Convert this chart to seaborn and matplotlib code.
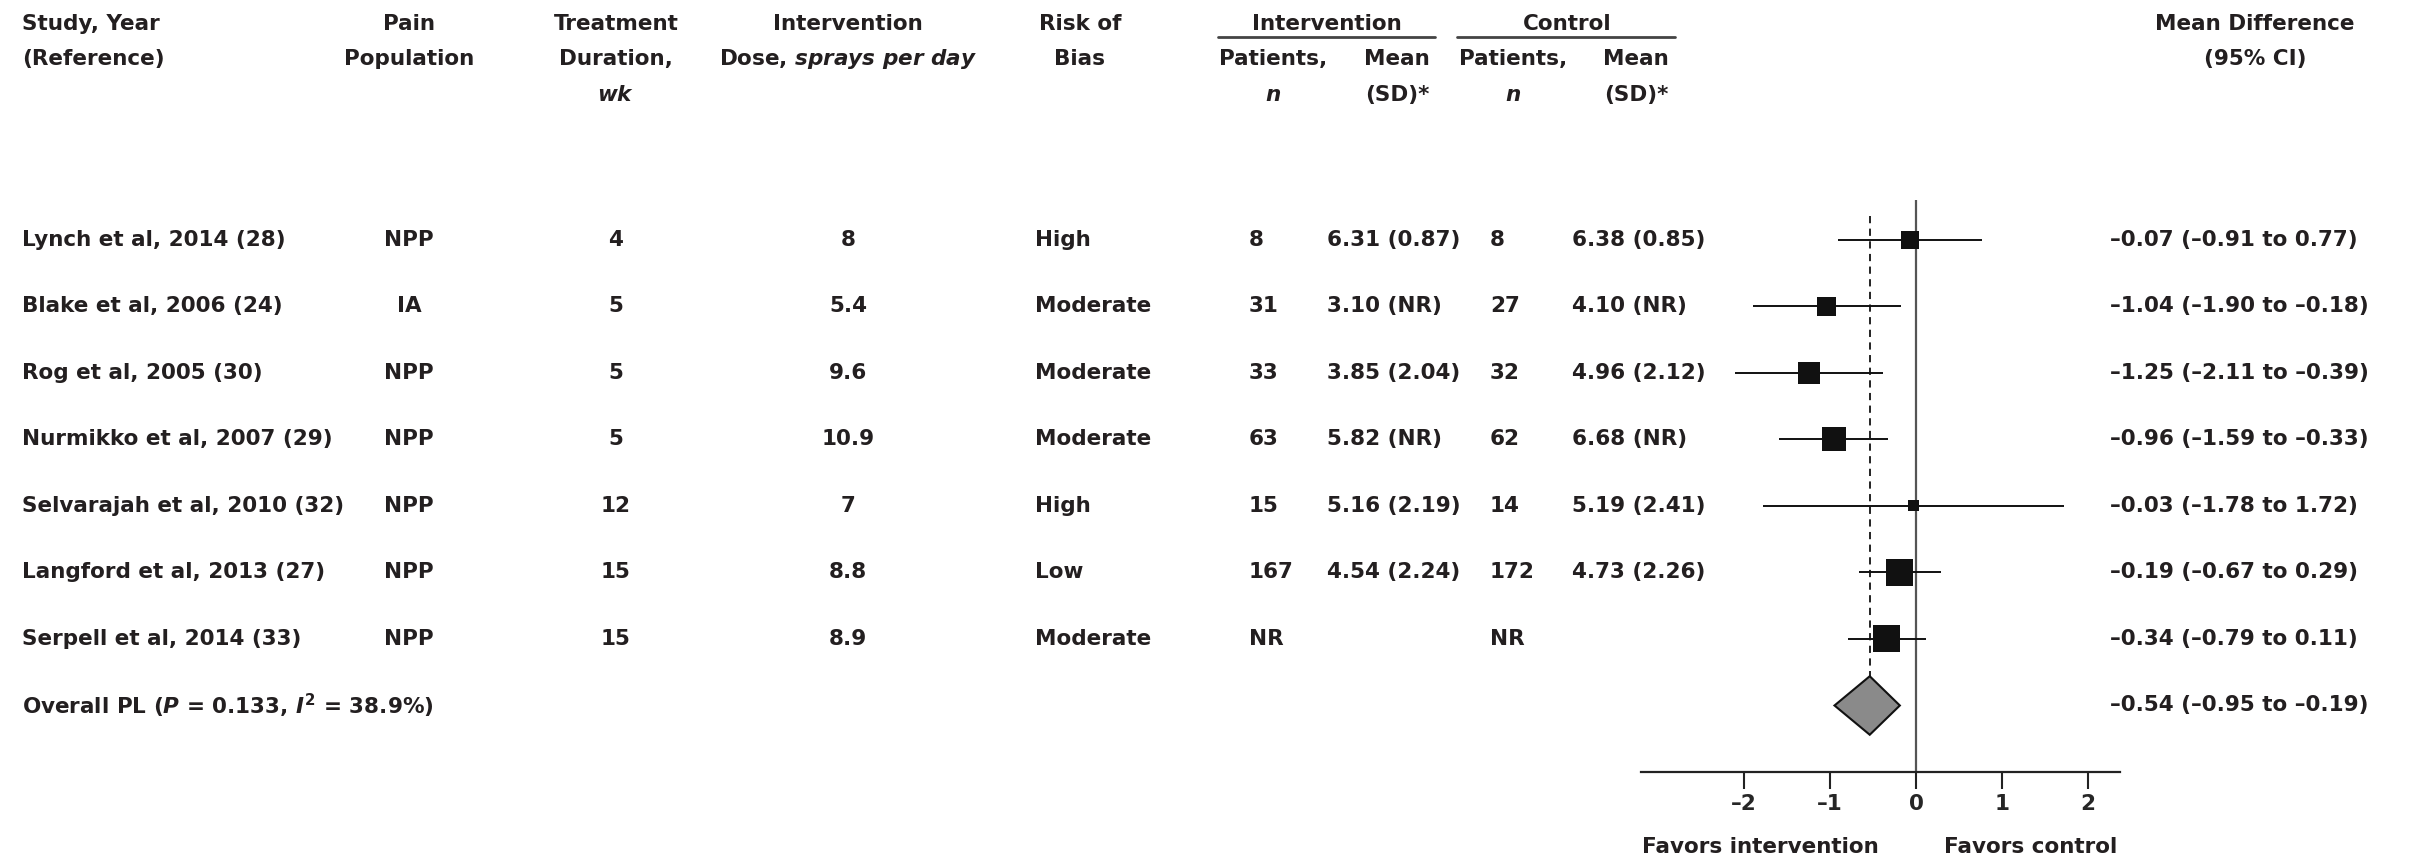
import matplotlib
matplotlib.use("Agg")
import matplotlib.pyplot as plt
import matplotlib.transforms as mtransforms
from matplotlib.lines import Line2D
import seaborn as sns
import pandas as pd

# table data
studies = ["Lynch et al, 2014 (28)", "Blake et al, 2006 (24)", "Rog et al, 2005 (30)",
           "Nurmikko et al, 2007 (29)", "Selvarajah et al, 2010 (32)",
           "Langford et al, 2013 (27)", "Serpell et al, 2014 (33)"]
population = ["NPP", "IA", "NPP", "NPP", "NPP", "NPP", "NPP"]
duration = ["4", "5", "5", "5", "12", "15", "15"]
dose = ["8", "5.4", "9.6", "10.9", "7", "8.8", "8.9"]
risk = ["High", "Moderate", "Moderate", "Moderate", "High", "Low", "Moderate"]
int_n = ["8", "31", "33", "63", "15", "167", "NR"]
int_mean = ["6.31 (0.87)", "3.10 (NR)", "3.85 (2.04)", "5.82 (NR)", "5.16 (2.19)", "4.54 (2.24)", ""]
ctl_n = ["8", "27", "32", "62", "14", "172", "NR"]
ctl_mean = ["6.38 (0.85)", "4.10 (NR)", "4.96 (2.12)", "6.68 (NR)", "5.19 (2.41)", "4.73 (2.26)", ""]

# effect sizes
md = [-0.07, -1.04, -1.25, -0.96, -0.03, -0.19, -0.34]
ci_lo = [-0.91, -1.90, -2.11, -1.59, -1.78, -0.67, -0.79]
ci_hi = [0.77, -0.18, -0.39, -0.33, 1.72, 0.29, 0.11]
weight = [9.3, 10.9, 14.7, 17.5, 3.7, 22.1, 22.1]
overall = [-0.54, -0.95, -0.19]
overall_label = r"Overall PL ($P$ = 0.133, $I^2$ = 38.9%)"
xticks = [-2, -1, 0, 1, 2]

sns.set_theme(style="white")
plt.rcParams["font.family"] = ["DejaVu Sans"]
plt.rcParams["font.weight"] = "bold"
plt.rcParams["mathtext.fontset"] = "custom"
plt.rcParams["mathtext.rm"] = "DejaVu Sans:bold"
plt.rcParams["mathtext.it"] = "DejaVu Sans:oblique:bold"
plt.rcParams["text.color"] = "#231f20"

W, H = 2420, 861
FS = 15.5
fig = plt.figure(figsize=(W / 100, H / 100), dpi=100)


def fx(x):
    return x / W


def fy(y):
    return 1 - y / H


ax = fig.add_axes([fx(1641), fy(772), fx(2120) - fx(1641), fy(200) - fy(772)])
ax.set_xlim(-3.2, 2.37)
ax.set_ylim(8, -0.6)

df = pd.DataFrame({"md": md, "lo": ci_lo, "hi": ci_hi, "w": weight})
df["row"] = range(len(df))

ax.hlines(df["row"], df["lo"], df["hi"], color="#111", lw=1.4, zorder=2)
sns.scatterplot(data=df, x="md", y="row", size="w", sizes=(0, (27 * 0.72) ** 2),
                size_norm=(0, df["w"].max()), marker="s", color="#111",
                linewidth=0, legend=False, ax=ax, zorder=3)

n = len(df)
ax.vlines(0, -0.6, 8, color="#555", lw=1.6, zorder=1)
ax.vlines(overall[0], -0.36, n - 0.44, color="#111", lw=1.3,
          linestyles=(0, (4, 3)), zorder=1)
ax.fill([overall[1], overall[0], overall[2], overall[0]],
        [n, n - 0.44, n, n + 0.44], facecolor="#8a8a8a",
        edgecolor="#111", lw=1.5, zorder=3)

for s in ["top", "left", "right"]:
    ax.spines[s].set_visible(False)
ax.spines["bottom"].set_color("#222")
ax.spines["bottom"].set_linewidth(1.6)
ax.set_yticks([])
ax.set_xticks(xticks)
ax.set_xticklabels([str(t).replace("-", "–") for t in xticks])
ax.tick_params(axis="x", direction="out", length=12, width=1.5, color="#222",
               labelsize=FS, pad=4, bottom=True)
ax.set_xlabel("")
ax.set_ylabel("")
ax.patch.set_alpha(0)

fig.text(fx(1642), fy(847), "Favors intervention", fontsize=FS, va="center", ha="left")
fig.text(fx(2117), fy(847), "Favors control", fontsize=FS, va="center", ha="right")

# table rows
trans = mtransforms.blended_transform_factory(fig.transFigure, ax.transData)
columns = [(22, "left", studies), (409, "center", population), (616, "center", duration),
           (848, "center", dose), (1035, "left", risk), (1249, "left", int_n),
           (1327, "left", int_mean), (1490, "left", ctl_n), (1572, "left", ctl_mean)]
for x, ha, vals in columns:
    for i, v in enumerate(vals):
        ax.text(fx(x), i, v, transform=trans, ha=ha, va="center", fontsize=FS, clip_on=False)


def fmt(v):
    return f"{v:.2f}".replace("-", "–")


for i in range(n):
    ax.text(fx(2110), i, f"{fmt(md[i])} ({fmt(ci_lo[i])} to {fmt(ci_hi[i])})",
            transform=trans, ha="left", va="center", fontsize=FS, clip_on=False)
ax.text(fx(22), n, overall_label, transform=trans, ha="left", va="center", fontsize=FS, clip_on=False)
ax.text(fx(2110), n, f"{fmt(overall[0])} ({fmt(overall[1])} to {fmt(overall[2])})",
        transform=trans, ha="left", va="center", fontsize=FS, clip_on=False)

# header
line_y = [24, 59, 95]
headers = [(22, "left", ["Study, Year", "(Reference)"]),
           (409, "center", ["Pain", "Population"]),
           (616, "center", ["Treatment", "Duration,", r"$\mathit{wk}$"]),
           (848, "center", ["Intervention", r"Dose, $\mathit{sprays\ per\ day}$"]),
           (1080, "center", ["Risk of", "Bias"]),
           (1327, "center", ["Intervention"]),
           (1567, "center", ["Control"]),
           (1273, "center", [None, "Patients,", r"$\mathit{n}$"]),
           (1397, "center", [None, "Mean", "(SD)*"]),
           (1513, "center", [None, "Patients,", r"$\mathit{n}$"]),
           (1636, "center", [None, "Mean", "(SD)*"]),
           (2255, "center", ["Mean Difference", "(95% CI)"])]
for x, ha, lines in headers:
    for k, t in enumerate(lines):
        if t:
            fig.text(fx(x), fy(line_y[k]), t, ha=ha, va="center", fontsize=FS)

for x0, x1 in [(1218, 1435), (1457, 1675)]:
    fig.add_artist(Line2D([fx(x0), fx(x1)], [fy(37), fy(37)], transform=fig.transFigure,
                          color="#444", lw=2))

fig.savefig("out.png", dpi=100, facecolor="white")
